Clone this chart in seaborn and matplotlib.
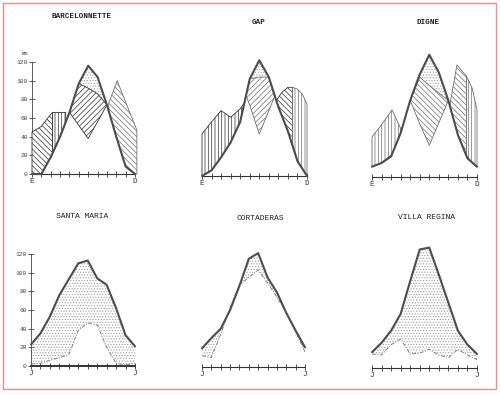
import numpy as np
import matplotlib
matplotlib.use("Agg")
import matplotlib.pyplot as plt
import seaborn as sns
from matplotlib.patches import Rectangle

sns.set_style("white")
plt.rcParams["font.family"] = ["Liberation Mono", "DejaVu Sans Mono"]
plt.rcParams["hatch.linewidth"] = 0.5

months = np.arange(12)

# ---- data (mm) ----
# top row: Barcelonnette, Gap, Digne (E..D)
barc_pe = [0, 0, 18, 40, 66, 97, 116, 104, 74, 40, 8, 0]
barc_left_x = [0, 1, 2, 2.2]
barc_left_top = [45, 51, 64, 66]
barc_rech_x = [2.2, 3, 3.6]
barc_rech_top = [66, 66, 66]
barc_mid_x = [4, 5, 6, 7, 8]
barc_mid_top = [66, 97, 92, 86, 74]
barc_mid_low = [66, 52, 38, 56, 74]
barc_right_x = [8.2, 9.1, 10, 11, 11.2]
barc_right_top = [76, 100, 77, 52, 47]

gap_pe = [0, 6, 20, 36, 58, 104, 124, 106, 74, 48, 16, 0]
gap_left_x = [0, 1, 2, 3, 4, 4.4]
gap_left_top = [45, 58, 70, 63, 72, 78]
gap_mid_x = [4.6, 5, 6, 7, 7.6]
gap_mid_top = [86, 104, 106, 106, 85]
gap_mid_low = [86, 76, 45, 70, 85]
gap_r1_x = [7.8, 8.4, 9, 9.5]
gap_r1_top = [81, 90, 95, 95]
gap_r2_x = [9.5, 10, 10.5, 11]
gap_r2_top = [95, 93, 88, 77]

dig_pe = [11, 15, 22, 47, 82, 110, 131, 112, 82, 45, 20, 11]
dig_left_x = [0, 1, 2.1, 3.0]
dig_left_top = [43, 56, 72, 52]
dig_mid_x = [4, 5, 6, 7, 8]
dig_mid_top = [82, 107, 98, 90, 82]
dig_mid_low = [82, 57, 34, 58, 82]
dig_r1_x = [8.2, 8.9, 9.9]
dig_r1_top = [80, 120, 108]
dig_r2_x = [9.9, 10.5, 11]
dig_r2_top = [108, 95, 72]

# bottom row: Santa Maria, Cortaderas, Villa Regina (J..J)
sm_pe = [23, 35, 53, 76, 93, 110, 113, 94, 87, 62, 33, 21]
sm_p = [2, 3, 6, 9, 12, 38, 46, 44, 20, 3, 1, 3]
cort_pe = [20, 31, 41, 61, 87, 116, 122, 96, 80, 58, 39, 21]
cort_p = [12, 10, 35, 64, 88, 96, 104, 90, 75, 58, 38, 16]
vr_pe = [17, 27, 40, 58, 93, 127, 129, 100, 70, 40, 25, 15]
vr_p = [15, 14, 25, 31, 15, 16, 20, 14, 11, 20, 14, 9]

titles = ["BARCELONNETTE", "GAP", "DIGNE", "SANTA MARIA", "CORTADERAS", "VILLA REGINA"]
x_ends_top = ["E", "D"]
x_ends_bot = ["J", "J"]
y_ticks = [0, 20, 40, 60, 80, 100, 120]

# ---- layout (pixels of the 500x395 picture) ----
W, H = 500, 395
K = 112 / 120  # px per mm
panels = [  # axis start x, axis end x, zero line y, title x, title y
    (32, 135, 174, 82, 17),
    (202, 307, 176, 259, 22),
    (372, 477, 177, 428, 22),
    (31, 135, 366, 82, 216),
    (202, 305, 367, 260, 218),
    (372, 477, 368, 427, 217),
]

LINE = "#4d4d4d"
EDGE = "#333333"
LIGHT = "#6e6e6e"
DOTS = "#9e9e9e"

fig = plt.figure(figsize=(W / 100, H / 100), dpi=100)
fig.patches.append(Rectangle((3 / W, 1 - 389 / H), 493 / W, 386 / H,
                             transform=fig.transFigure, fill=False,
                             edgecolor="#f08c8c", linewidth=1.0))


def make_ax(x0, x1, y0):
    dx = (x1 - x0) / 11
    left = x0 - 0.8 * dx
    width = 12.6 * dx
    bottom = y0 + 12 * K
    height = 152 * K
    ax = fig.add_axes([left / W, (H - bottom) / H, width / W, height / H])
    ax.set_xlim(-0.8, 11.8)
    ax.set_ylim(-12, 140)
    ax.patch.set_alpha(0)
    return ax


def style_axes(ax, ends, yaxis, thick=False):
    for s in ["top", "right"]:
        ax.spines[s].set_visible(False)
    ax.spines["bottom"].set_position(("data", 0))
    ax.spines["bottom"].set_bounds(0, 11)
    ax.spines["bottom"].set_color("#333333")
    ax.spines["bottom"].set_linewidth(1.4 if thick else 0.8)
    ax.set_xticks(months)
    ax.set_xticklabels([ends[0]] + [""] * 10 + [ends[1]])
    ax.tick_params(axis="x", direction="inout", length=4, width=0.6,
                   labelsize=5.5, pad=1, colors="#333333", bottom=True)
    if yaxis:
        ax.spines["left"].set_position(("data", 0))
        ax.spines["left"].set_bounds(0, 120)
        ax.spines["left"].set_color("#444444")
        ax.spines["left"].set_linewidth(0.6)
        ax.set_yticks(y_ticks)
        ax.set_yticklabels([str(v) for v in y_ticks])
        ax.tick_params(axis="y", direction="inout", length=4, width=0.6,
                       labelsize=4.5, pad=1, colors="#444444", left=True)
    else:
        ax.spines["left"].set_visible(False)
        ax.set_yticks([])
    ax.set(xlabel="", ylabel="")


def pe_at(pe, xs):
    return np.interp(xs, months, pe)


def hatch_region(ax, xs, top, low, hatch, color=EDGE):
    ax.fill_between(xs, low, top, facecolor="white", edgecolor=color,
                    hatch=hatch, linewidth=0.6, zorder=3)


def dots_region(ax, xs, top, low):
    ax.fill_between(xs, low, top, facecolor="none", edgecolor=DOTS,
                    hatch="......", linewidth=0, zorder=2)


D6 = "\\" * 6
V5 = "|" * 5
F6 = "/" * 6

# ---- top row ----
top_data = [
    (barc_pe, [(barc_left_x, barc_left_top, None, D6, EDGE),
               (barc_rech_x, barc_rech_top, None, V5, EDGE),
               (barc_mid_x, barc_mid_top, barc_mid_low, F6, EDGE),
               (barc_right_x, barc_right_top, None, D6, LIGHT)],
     (barc_mid_x, barc_mid_low)),
    (gap_pe, [(gap_left_x, gap_left_top, None, V5, EDGE),
              (gap_mid_x, gap_mid_top, gap_mid_low, F6, LIGHT),
              (gap_r1_x, gap_r1_top, None, D6, EDGE),
              (gap_r2_x, gap_r2_top, None, V5, LIGHT)],
     (gap_mid_x, gap_mid_low)),
    (dig_pe, [(dig_left_x, dig_left_top, None, V5, LIGHT),
              (dig_mid_x, dig_mid_top, dig_mid_low, D6, LIGHT),
              (dig_r1_x, dig_r1_top, None, D6, LIGHT),
              (dig_r2_x, dig_r2_top, None, V5, LIGHT)],
     (dig_mid_x, dig_mid_low)),
]

for i, (pe, regions, deficit) in enumerate(top_data):
    x0, x1, y0, tx, ty = panels[i]
    ax = make_ax(x0, x1, y0)
    dx_, dlow = deficit
    dots_region(ax, dx_, pe_at(pe, dx_), dlow)
    for xs, top, low, hatch, col in regions:
        if low is None:
            low = pe_at(pe, xs)
        hatch_region(ax, xs, top, low, hatch, col)
    sns.lineplot(x=months, y=pe, ax=ax, color=LINE, linewidth=1.5, zorder=5)
    style_axes(ax, x_ends_top, yaxis=(i == 0))
    if i == 0:
        ax.text(-0.4, 127, "mm", fontsize=4, color="#444444", ha="right")
    fig.text(tx / W, 1 - ty / H, titles[i], ha="center", va="center",
             fontsize=5.5, fontweight="bold", color="#222222")

# ---- bottom row ----
bot_data = [(sm_pe, sm_p), (cort_pe, cort_p), (vr_pe, vr_p)]
for j, (pe, p) in enumerate(bot_data):
    x0, x1, y0, tx, ty = panels[3 + j]
    ax = make_ax(x0, x1, y0)
    dots_region(ax, months, pe, np.minimum(p, pe))
    sns.lineplot(x=months, y=pe, ax=ax, color=LINE, linewidth=1.5, zorder=5)
    sns.lineplot(x=months, y=p, ax=ax, color="#808080", linewidth=0.7,
                 linestyle=(0, (4, 1.5, 1, 1.5)), zorder=4)
    style_axes(ax, x_ends_bot, yaxis=(j == 0), thick=(j == 0))
    fig.text(tx / W, 1 - ty / H, titles[3 + j], ha="center", va="center",
             fontsize=5.8, color="#222222")

fig.savefig("out.png", dpi=100)
